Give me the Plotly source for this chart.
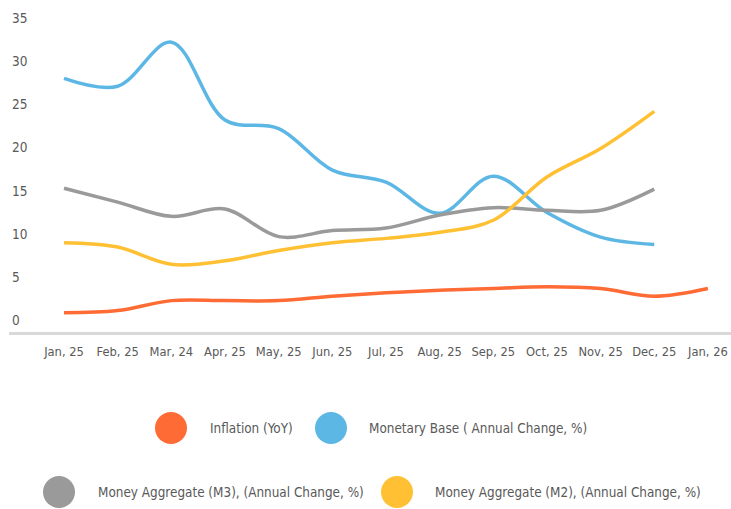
import plotly.graph_objects as go

months = ["Jan, 25", "Feb, 25", "Mar, 24", "Apr, 25", "May, 25", "Jun, 25", "Jul, 25",
          "Aug, 25", "Sep, 25", "Oct, 25", "Nov, 25", "Dec, 25", "Jan, 26"]
inflation = [0.9, 1.15, 2.3, 2.3, 2.3, 2.8, 3.2, 3.5, 3.7, 3.9, 3.7, 2.8, 3.7]
monetary_base = [28.0, 27.1, 32.2, 23.2, 22.2, 17.4, 16.0, 12.4, 16.7, 12.5, 9.65, 8.8]
m3 = [15.3, 13.7, 12.05, 12.9, 9.7, 10.4, 10.7, 12.2, 13.05, 12.75, 12.75, 15.2]
m2 = [9.0, 8.5, 6.5, 6.9, 8.1, 9.0, 9.5, 10.2, 11.6, 16.6, 19.9, 24.2]
y_ticks = [0, 5, 10, 15, 20, 25, 30, 35]

names = ["Inflation (YoY)", "Monetary Base ( Annual Change, %)",
         "Money Aggregate (M3), (Annual Change, %)", "Money Aggregate (M2), (Annual Change, %)"]
colors = ["#FF6B35", "#5DB7E4", "#9A9A9A", "#FFC034"]
series = [inflation, monetary_base, m3, m2]

FONT = "DejaVu Sans Condensed, sans-serif"
TXT = "#595959"

fig = go.Figure()
for name, col, vals in zip(names, colors, series):
    fig.add_trace(go.Scatter(
        x=list(range(len(vals))), y=vals, name=name, mode="lines",
        line=dict(color=col, width=3.5, shape="spline", smoothing=1),
        showlegend=False, hoverinfo="skip"))

W, H = 731, 509
PLOT_L, PLOT_R, PLOT_T, PLOT_B = 9, 731, 8, 332   # page pixels
L, T, R, B = PLOT_L, PLOT_T, W - PLOT_R, H - PLOT_B
PW, PH = PLOT_R - PLOT_L, PLOT_B - PLOT_T

def px(xp):
    return (xp - PLOT_L) / PW

def py(yp):
    return (PLOT_B - yp) / PH

# custom legend (circle + label)
legend_pos = [(171, 428, 208), (331, 428, 367), (59, 492, 96), (397, 492, 433)]
shapes = []
annotations = []
for (cx, cy, tx), name, col in zip(legend_pos, names, colors):
    shapes.append(dict(type="circle", xref="paper", yref="paper",
                       xsizemode="pixel", ysizemode="pixel",
                       xanchor=px(cx), yanchor=py(cy),
                       x0=-16, x1=16, y0=-16, y1=16,
                       fillcolor=col, line=dict(width=0)))
    annotations.append(dict(text=name, xref="paper", yref="paper",
                            x=px(tx), y=py(cy), xanchor="left", yanchor="middle",
                            showarrow=False, font=dict(family=FONT, size=13.4, color=TXT)))

fig.update_layout(
    width=W, height=H,
    margin=dict(l=L, r=R, t=T, b=B, pad=0),
    paper_bgcolor="white", plot_bgcolor="white",
    font=dict(family=FONT, color=TXT),
    shapes=shapes, annotations=annotations,
    xaxis=dict(range=[-1.025, 12.43], tickmode="array",
               tickvals=list(range(len(months))), ticktext=months,
               showgrid=False, zeroline=False, showline=True,
               linecolor="#D9D9D9", linewidth=3, ticks="",
               ticklabelstandoff=6,
               tickfont=dict(family=FONT, size=12.8, color=TXT)),
    yaxis=dict(range=[-1.33, 36.15], tickmode="array", tickvals=y_ticks,
               showgrid=False, zeroline=False, showline=False, ticks="",
               ticklabelposition="inside", ticklabeloverflow="allow",
               tickfont=dict(family=FONT, size=13.5, color=TXT)),
)

fig.write_html("out.html", config={"displayModeBar": False},
               post_script="document.body.style.margin='0';document.body.style.overflow='hidden';")
